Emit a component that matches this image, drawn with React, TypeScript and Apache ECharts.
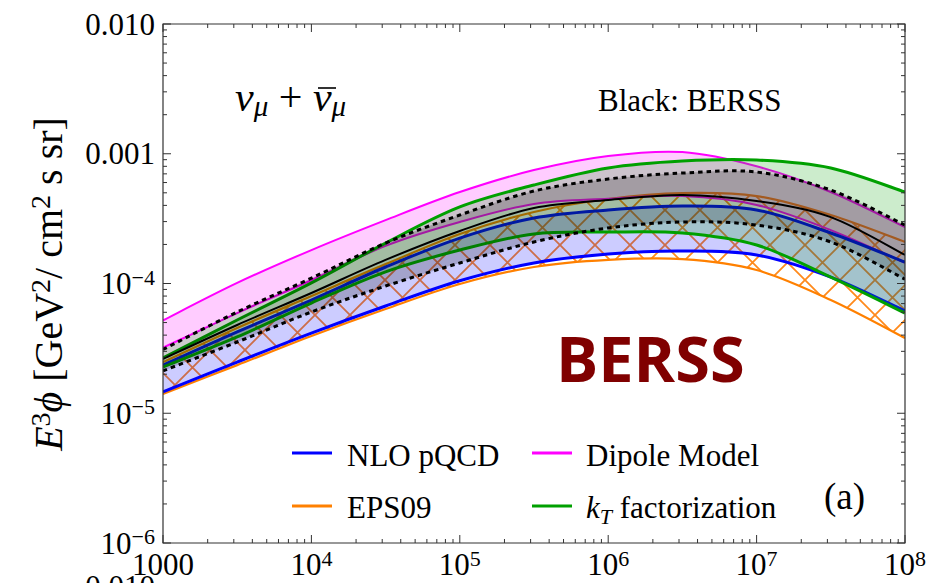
import React, { useEffect, useRef } from 'react';
import * as echarts from 'echarts';

// Neutrino energy E [GeV] (half-decade sampling)
const energyGeV = [1e3, 3.16e3, 1e4, 3.16e4, 1e5, 3.16e5, 1e6, 3.16e6, 1e7, 3.16e7, 1e8];

// E^3 phi [GeV^2 / cm^2 s sr]
const dipoleUpper = [5.2e-5, 1.01e-4, 1.81e-4, 3.08e-4, 5.07e-4, 7.49e-4, 9.61e-4, 1.03e-3, 8.0e-4, 5.07e-4, 2.72e-4];
const dipoleLower = [3.2e-5, 5.92e-5, 1.06e-4, 1.95e-4, 2.98e-4, 4.1e-4, 4.5e-4, 4.72e-4, 4.03e-4, 2.58e-4, 1.44e-4];
const nloUpper = [2.35e-5, 4.23e-5, 7.46e-5, 1.34e-4, 2.24e-4, 3.2e-4, 3.69e-4, 3.96e-4, 3.69e-4, 2.45e-4, 1.46e-4];
const nloLower = [1.46e-5, 2.48e-5, 4.15e-5, 6.71e-5, 1.05e-4, 1.44e-4, 1.69e-4, 1.78e-4, 1.66e-4, 1.12e-4, 6.14e-5];
const eps09Upper = [2.48e-5, 4.54e-5, 8.01e-5, 1.41e-4, 2.41e-4, 3.56e-4, 4.48e-4, 4.98e-4, 4.72e-4, 3.37e-4, 2.09e-4];
const eps09Lower = [1.41e-5, 2.35e-5, 3.94e-5, 6.36e-5, 9.91e-5, 1.34e-4, 1.52e-4, 1.54e-4, 1.27e-4, 7.46e-5, 3.8e-5];
const ktUpper = [2.67e-5, 5.23e-5, 1.01e-4, 2.05e-4, 3.89e-4, 5.74e-4, 7.77e-4, 8.79e-4, 8.95e-4, 7.77e-4, 5.07e-4];
const ktLower = [2.27e-5, 3.87e-5, 7.07e-5, 1.23e-4, 1.81e-4, 2.41e-4, 2.49e-4, 2.45e-4, 1.98e-4, 1.12e-4, 5.92e-5];
const berssUpper = [3.1e-5, 6.03e-5, 1.1e-4, 2.05e-4, 3.37e-4, 5.16e-4, 6.39e-4, 7.1e-4, 7.23e-4, 5.25e-4, 2.82e-4];
const berssCentral = [2.62e-5, 4.79e-5, 8.45e-5, 1.52e-4, 2.54e-4, 3.82e-4, 4.4e-4, 4.81e-4, 4.32e-4, 3.25e-4, 1.66e-4];
const berssLower = [2.12e-5, 3.54e-5, 6.03e-5, 9.56e-5, 1.44e-4, 2.09e-4, 2.68e-4, 2.98e-4, 2.82e-4, 2.09e-4, 1.08e-4];

// Axis ticks
const xMajorTicks = [1e3, 1e4, 1e5, 1e6, 1e7, 1e8];
const xTickLabels = ['{b|1000}', '{b|10}{sup|4}', '{b|10}{sup|5}', '{b|10}{sup|6}', '{b|10}{sup|7}', '{b|10}{sup|8}'];
const yMajorTicks = [1e-6, 1e-5, 1e-4, 1e-3, 1e-2];
const yTickLabels = ['{b|10}{sup|\u22126}', '{b|10}{sup|\u22125}', '{b|10}{sup|\u22124}', '{b|0.001}', '{b|0.010}'];
const minorMultipliers = [2, 3, 4, 5, 6, 7, 8, 9];
const xDecades = [1e3, 1e4, 1e5, 1e6, 1e7];
const yDecades = [1e-6, 1e-5, 1e-4, 1e-3];

const SERIF = '"Liberation Serif", "Times New Roman", Times, serif';

function segs(p: number[][]) {
  let d = '';
  for (let i = 0; i < p.length - 1; i++) {
    const p0 = p[i - 1] || p[i];
    const p1 = p[i];
    const p2 = p[i + 1];
    const p3 = p[i + 2] || p[i + 1];
    const c1x = p1[0] + (p2[0] - p0[0]) / 6;
    const c1y = p1[1] + (p2[1] - p0[1]) / 6;
    const c2x = p2[0] - (p3[0] - p1[0]) / 6;
    const c2y = p2[1] - (p3[1] - p1[1]) / 6;
    d += `C${c1x},${c1y} ${c2x},${c2y} ${p2[0]},${p2[1]}`;
  }
  return d;
}
function linePath(p: number[][]) {
  return `M${p[0][0]},${p[0][1]}` + segs(p);
}
function bandPath(up: number[][], lo: number[][]) {
  const r = lo.slice().reverse();
  return linePath(up) + `L${r[0][0]},${r[0][1]}` + segs(r) + 'Z';
}

const hatchSize = 35;
const hatchSvg =
  `<svg xmlns='http://www.w3.org/2000/svg' width='${hatchSize}' height='${hatchSize}'>` +
  `<path d='M-4 -4L${hatchSize + 4} ${hatchSize + 4}M${hatchSize + 4} -4L-4 ${hatchSize + 4}' stroke='#ff8a1c' stroke-width='1.8' fill='none'/></svg>`;
const hatchUrl = 'data:image/svg+xml;charset=utf-8,' + encodeURIComponent(hatchSvg);

type LineSpec = { values: number[]; color: string; width: number; dash?: number[] };

function band(name: string, upper: number[], lower: number[], fill: any, lines: LineSpec[]) {
  return {
    type: 'custom',
    name,
    coordinateSystem: 'cartesian2d',
    clip: true,
    silent: true,
    data: [[energyGeV[0], upper[0]]],
    renderItem: (params: any, api: any) => {
      const up = energyGeV.map((e, i) => api.coord([e, upper[i]]));
      const lo = energyGeV.map((e, i) => api.coord([e, lower[i]]));
      const children: any[] = [];
      if (fill) {
        children.push({ type: 'path', shape: { pathData: bandPath(up, lo) }, style: { fill, stroke: null } });
      }
      lines.forEach((l) => {
        const pts = energyGeV.map((e, i) => api.coord([e, l.values[i]]));
        children.push({
          type: 'path',
          shape: { pathData: linePath(pts) },
          style: { fill: null, stroke: l.color, lineWidth: l.width, lineDash: l.dash || null, lineCap: 'butt' },
        });
      });
      return { type: 'group', children };
    },
  };
}

const MAGENTA = '#ff00ff';
const BLUE = '#0000ff';
const ORANGE = '#ff8000';
const GREEN = '#00a000';

const frameSeries = {
  type: 'custom',
  coordinateSystem: 'cartesian2d',
  silent: true,
  clip: false,
  z: 10,
  data: [[1e3, 1e-4]],
  renderItem: (params: any, api: any) => {
    const cs = params.coordSys;
    const L = cs.x, T = cs.y, R = cs.x + cs.width, B = cs.y + cs.height;
    const st = { stroke: '#333', lineWidth: 1 };
    const ch: any[] = [];
    const ln = (x1: number, y1: number, x2: number, y2: number) =>
      ch.push({ type: 'line', shape: { x1, y1, x2, y2 }, style: st });
    xMajorTicks.forEach((v) => {
      const x = api.coord([v, 1e-4])[0];
      ln(x, B, x, B - 8);
      ln(x, T, x, T + 8);
    });
    xDecades.forEach((d) =>
      minorMultipliers.forEach((m) => {
        const x = api.coord([d * m, 1e-4])[0];
        ln(x, B, x, B - 4);
        ln(x, T, x, T + 4);
      })
    );
    yMajorTicks.forEach((v) => {
      const y = api.coord([1e3, v])[1];
      ln(L, y, L + 8, y);
      ln(R, y, R - 8, y);
    });
    yDecades.forEach((d) =>
      minorMultipliers.forEach((m) => {
        const y = api.coord([1e3, d * m])[1];
        ln(L, y, L + 4, y);
        ln(R, y, R - 4, y);
      })
    );
    ch.push({ type: 'rect', shape: { x: L, y: T, width: R - L, height: B - T }, style: { fill: null, stroke: '#333', lineWidth: 1.2 } });
    return { type: 'group', children: ch };
  },
};

function richStyles(size: number, subDrop = 0.38) {
  const sub = Math.round(size * 0.7);
  return {
    b: { fontFamily: SERIF, fontSize: size, lineHeight: size, verticalAlign: 'bottom', color: '#000' },
    r: { fontFamily: SERIF, fontSize: size, lineHeight: size, verticalAlign: 'bottom', color: '#000' },
    i: { fontFamily: SERIF, fontSize: size, lineHeight: size, verticalAlign: 'bottom', fontStyle: 'italic', color: '#000' },
    sup: { fontFamily: SERIF, fontSize: sub, lineHeight: sub, padding: [0, 0, Math.round(size * 0.34), 0], verticalAlign: 'bottom', color: '#000' },
    rt: { fontFamily: SERIF, fontSize: size, lineHeight: size, verticalAlign: 'top', color: '#000' },
    it: { fontFamily: SERIF, fontSize: size, lineHeight: size, verticalAlign: 'top', fontStyle: 'italic', color: '#000' },
    subi: { fontFamily: SERIF, fontSize: sub, lineHeight: sub, padding: [Math.round(size * subDrop), 0, 0, 0], verticalAlign: 'top', fontStyle: 'italic', color: '#000' },
  };
}

export default function App() {
  const ref = useRef<HTMLDivElement>(null);
  useEffect(() => {
    if (!ref.current) return;
    const chart = echarts.init(ref.current, null, { renderer: 'svg' });
    const rich31 = richStyles(31, 0.44);
    const rich40 = richStyles(40);
    const rich42 = richStyles(42, 0.36);
    const option: any = {
      animation: false,
      backgroundColor: '#fff',
      grid: { left: 163, right: 39, top: 24, bottom: 40 },
      xAxis: {
        type: 'log',
        logBase: 10,
        min: 1e3,
        max: 1e8,
        splitNumber: 5,
        axisLine: { show: false },
        axisTick: { show: false },
        splitLine: { show: false },
        axisLabel: {
          margin: 6,
          formatter: (v: number) => {
            const k = xMajorTicks.findIndex((t) => Math.abs(Math.log10(t) - Math.log10(v)) < 1e-6);
            return k >= 0 ? xTickLabels[k] : '';
          },
          rich: rich31,
        },
      },
      yAxis: {
        type: 'log',
        logBase: 10,
        min: 1e-6,
        max: 1e-2,
        splitNumber: 4,
        axisLine: { show: false },
        axisTick: { show: false },
        splitLine: { show: false },
        axisLabel: {
          margin: 8,
          formatter: (v: number) => {
            const k = yMajorTicks.findIndex((t) => Math.abs(Math.log10(t) - Math.log10(v)) < 1e-6);
            return k >= 0 ? yTickLabels[k] : '';
          },
          rich: rich31,
        },
      },
      series: [
        band('EPS09', eps09Upper, eps09Lower, { image: hatchUrl, repeat: 'repeat', imageWidth: hatchSize, imageHeight: hatchSize }, [
          { values: eps09Upper, color: ORANGE, width: 2.2 },
          { values: eps09Lower, color: ORANGE, width: 2.2 },
        ]),
        band('Dipole Model', dipoleUpper, dipoleLower, 'rgba(255,0,255,0.2)', [
          { values: dipoleUpper, color: MAGENTA, width: 2 },
          { values: dipoleLower, color: MAGENTA, width: 2 },
        ]),
        band('NLO pQCD', nloUpper, nloLower, 'rgba(0,0,255,0.2)', [
          { values: nloUpper, color: BLUE, width: 3 },
          { values: nloLower, color: BLUE, width: 3 },
        ]),
        band('kT factorization', ktUpper, ktLower, 'rgba(0,160,0,0.2)', [
          { values: ktUpper, color: GREEN, width: 3 },
          { values: ktLower, color: GREEN, width: 3 },
        ]),
        band('BERSS', berssUpper, berssLower, 'rgba(0,0,0,0.2)', [
          { values: berssUpper, color: '#000', width: 3, dash: [4.5, 4] },
          { values: berssLower, color: '#000', width: 3, dash: [4.5, 4] },
          { values: berssCentral, color: '#000', width: 2 },
        ]),
        frameSeries,
      ],
      graphic: [
        {
          type: 'text',
          x: 48,
          y: 284,
          rotation: Math.PI / 2,
          style: {
            text: '{i|E}{sup|3}{i|\u03D5}{r| [GeV}{sup|2}{r|/ cm}{sup|2}{r| s sr]}',
            rich: rich40,
            align: 'center',
            verticalAlign: 'middle',
          },
        },
        {
          type: 'text',
          x: 235,
          y: 97,
          style: {
            text: '{it|\u03BD}{subi|\u03BC}{rt| + }{it|\u03BD}{subi|\u03BC}',
            rich: rich42,
            align: 'left',
            verticalAlign: 'middle',
          },
        },
        { type: 'line', shape: { x1: 318, y1: 88, x2: 336, y2: 88 }, style: { stroke: '#000', lineWidth: 1.6 } },
        {
          type: 'text',
          x: 598,
          y: 100,
          style: { text: 'Black: BERSS', fontFamily: SERIF, fontSize: 31, fill: '#000', align: 'left', verticalAlign: 'middle' },
        },
        {
          type: 'text',
          x: 556,
          y: 357,
          style: { text: 'BERSS', fontFamily: '"Open Sans", sans-serif', fontWeight: 'bold', fontSize: 63, fill: '#800000', align: 'left', verticalAlign: 'middle' },
        },
        { type: 'line', shape: { x1: 292, y1: 453, x2: 332, y2: 453 }, style: { stroke: BLUE, lineWidth: 3 } },
        { type: 'line', shape: { x1: 292, y1: 506, x2: 332, y2: 506 }, style: { stroke: ORANGE, lineWidth: 3 } },
        { type: 'line', shape: { x1: 532, y1: 453, x2: 572, y2: 453 }, style: { stroke: MAGENTA, lineWidth: 3 } },
        { type: 'line', shape: { x1: 532, y1: 506, x2: 572, y2: 506 }, style: { stroke: GREEN, lineWidth: 3 } },
        { type: 'text', x: 347, y: 455, style: { text: 'NLO pQCD', fontFamily: SERIF, fontSize: 31, fill: '#000', verticalAlign: 'middle' } },
        { type: 'text', x: 347, y: 507, style: { text: 'EPS09', fontFamily: SERIF, fontSize: 31, fill: '#000', verticalAlign: 'middle' } },
        { type: 'text', x: 586, y: 455, style: { text: 'Dipole Model', fontFamily: SERIF, fontSize: 31, fill: '#000', verticalAlign: 'middle' } },
        {
          type: 'text',
          x: 586,
          y: 507,
          style: { text: '{it|k}{subi|T}{rt| factorization}', rich: rich31, verticalAlign: 'middle' },
        },
        { type: 'text', x: 824, y: 496, style: { text: '(a)', fontFamily: SERIF, fontSize: 37, fill: '#000', verticalAlign: 'middle' } },
        { type: 'text', x: 155, y: 586, style: { text: '0.010', fontFamily: SERIF, fontSize: 31, fill: '#000', align: 'right', verticalAlign: 'middle' } },
      ],
    };
    chart.setOption(option);
    return () => chart.dispose();
  }, []);
  return <div ref={ref} style={{ position: 'fixed', left: 0, top: 0, width: 944, height: 583, background: '#fff' }} />;
}
